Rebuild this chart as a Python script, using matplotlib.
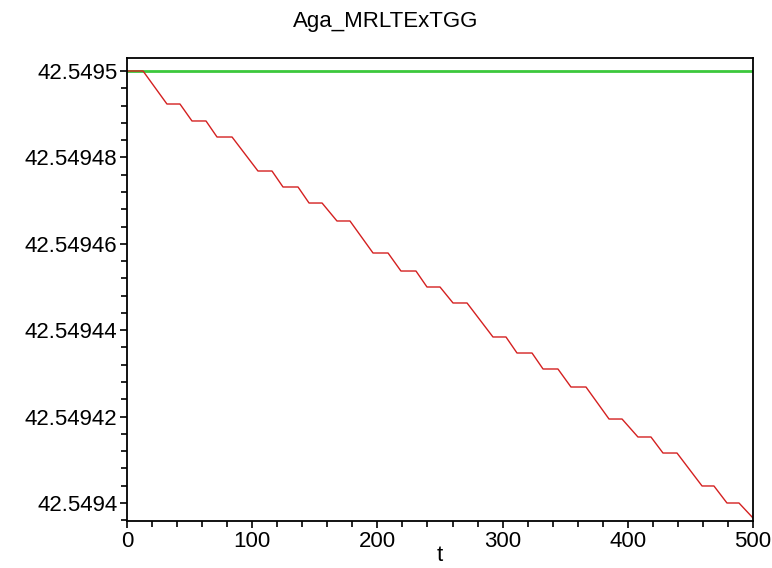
import matplotlib.pyplot as plt
from matplotlib.ticker import MultipleLocator

plt.rcParams['font.family'] = ['Liberation Sans', 'DejaVu Sans']

# red curve vertices (t, value)
t_red = [0, 12.8, 31.9, 42.3, 51.9, 63.1, 71.9, 83.9, 104.6, 115.8, 124.6,
         136.6, 145.4, 155.8, 167.7, 178.1, 196.5, 208.5, 218.8, 230.8,
         239.6, 250.0, 260.4, 271.6, 292.3, 302.7, 311.5, 323.5, 332.3,
         344.2, 354.6, 366.6, 385.0, 395.4, 408.1, 418.5, 428.1, 439.3,
         459.3, 468.8, 479.2, 488.8, 500]
v_red = [42.5495, 42.5495, 42.54949236, 42.54949236, 42.54948843, 42.54948843,
         42.54948472, 42.54948472, 42.54947685, 42.54947685, 42.54947315,
         42.54947315, 42.54946944, 42.54946944, 42.54946528, 42.54946528,
         42.54945787, 42.54945787, 42.54945370, 42.54945370, 42.54945000,
         42.54945000, 42.54944630, 42.54944630, 42.54943843, 42.54943843,
         42.54943472, 42.54943472, 42.54943102, 42.54943102, 42.54942685,
         42.54942685, 42.54941944, 42.54941944, 42.54941528, 42.54941528,
         42.54941157, 42.54941157, 42.54940394, 42.54940394, 42.54940000,
         42.54940000, 42.54939653]

# green reference line
t_green = [0, 500]
v_green = [42.5495, 42.5495]

fig = plt.figure(figsize=(7.72, 5.68), dpi=100)
ax = fig.add_axes([127 / 772, 1 - 521 / 568, 626 / 772, 463 / 568])

ax.plot(t_green, v_green, color='#3cc83c', lw=2)
ax.plot(t_red, v_red, color='#d42020', lw=1)

ax.set_xlim(0, 500)
ax.set_ylim(42.5495 - 450 * 0.00002 / 86.4, 42.5495 + 13 * 0.00002 / 86.4)

ax.xaxis.set_major_locator(MultipleLocator(100))
ax.xaxis.set_minor_locator(MultipleLocator(20))
ax.yaxis.set_major_locator(MultipleLocator(0.00002))
ax.yaxis.set_minor_locator(MultipleLocator(0.000004))
ax.yaxis.set_major_formatter(plt.FuncFormatter(lambda v, p: ('%.5f' % v).rstrip('0')))

ax.tick_params(which='both', direction='out', labelsize=16, width=1.2, pad=2)
ax.tick_params(which='major', length=5)
ax.tick_params(which='minor', length=4)

for s in ax.spines.values():
    s.set_linewidth(1.3)

ax.set_xlabel('t', fontsize=16, labelpad=-5)
fig.text(0.5, 1 - 22 / 568, 'Aga_MRLTExTGG', fontsize=16, ha='center', va='center')

fig.savefig('out.png', dpi=100)
